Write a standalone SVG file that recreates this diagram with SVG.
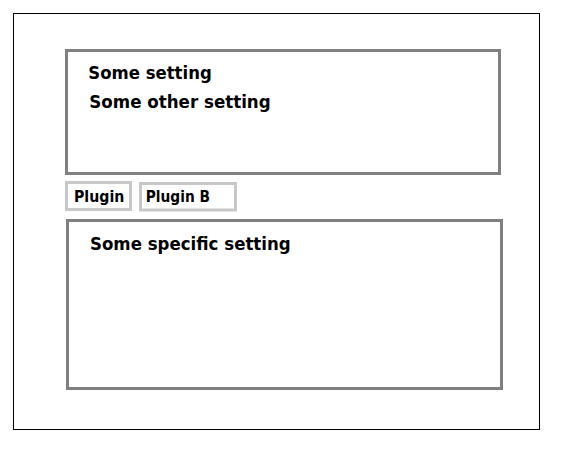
<svg xmlns="http://www.w3.org/2000/svg" width="568" height="452" viewBox="0 0 568 452">
<style>
.panel{fill:#ffffff;stroke:#808080;stroke-width:3}
.tab{fill:#ffffff;stroke:#c8c8c8;stroke-width:3}
.lbl{font-family:"DejaVu Sans","Liberation Sans",sans-serif;font-weight:bold;fill:#000000}
.big{font-size:17.5px}
.small{font-size:15px}
</style>
<rect width="568" height="452" fill="#ffffff"/>
<g id="frame">
<rect x="13.5" y="13.5" width="526" height="416" fill="#ffffff" stroke="#000000" stroke-width="1"/>
</g>
<g id="general-settings">
<rect class="panel" x="66.5" y="50.5" width="433" height="123"/>
<text class="lbl big" x="88.3" y="78.7" textLength="123.4" lengthAdjust="spacingAndGlyphs">Some setting</text>
<text class="lbl big" x="89.3" y="108.3" textLength="181.4" lengthAdjust="spacingAndGlyphs">Some other setting</text>
</g>
<g id="tab-plugin">
<rect class="tab" x="66.5" y="182.5" width="64" height="27"/>
<text class="lbl small" x="74" y="202.3" textLength="50.3" lengthAdjust="spacingAndGlyphs">Plugin</text>
</g>
<g id="tab-plugin-b">
<rect class="tab" x="140.5" y="183.5" width="95" height="26.5"/>
<text class="lbl small" x="145.7" y="202.3" textLength="64.3" lengthAdjust="spacingAndGlyphs">Plugin B</text>
</g>
<g id="plugin-settings">
<rect class="panel" x="67.5" y="220.5" width="434" height="168"/>
<text class="lbl big" x="90" y="250" textLength="200.7" lengthAdjust="spacingAndGlyphs">Some specific setting</text>
</g>
<g id="connectors"/>
</svg>
